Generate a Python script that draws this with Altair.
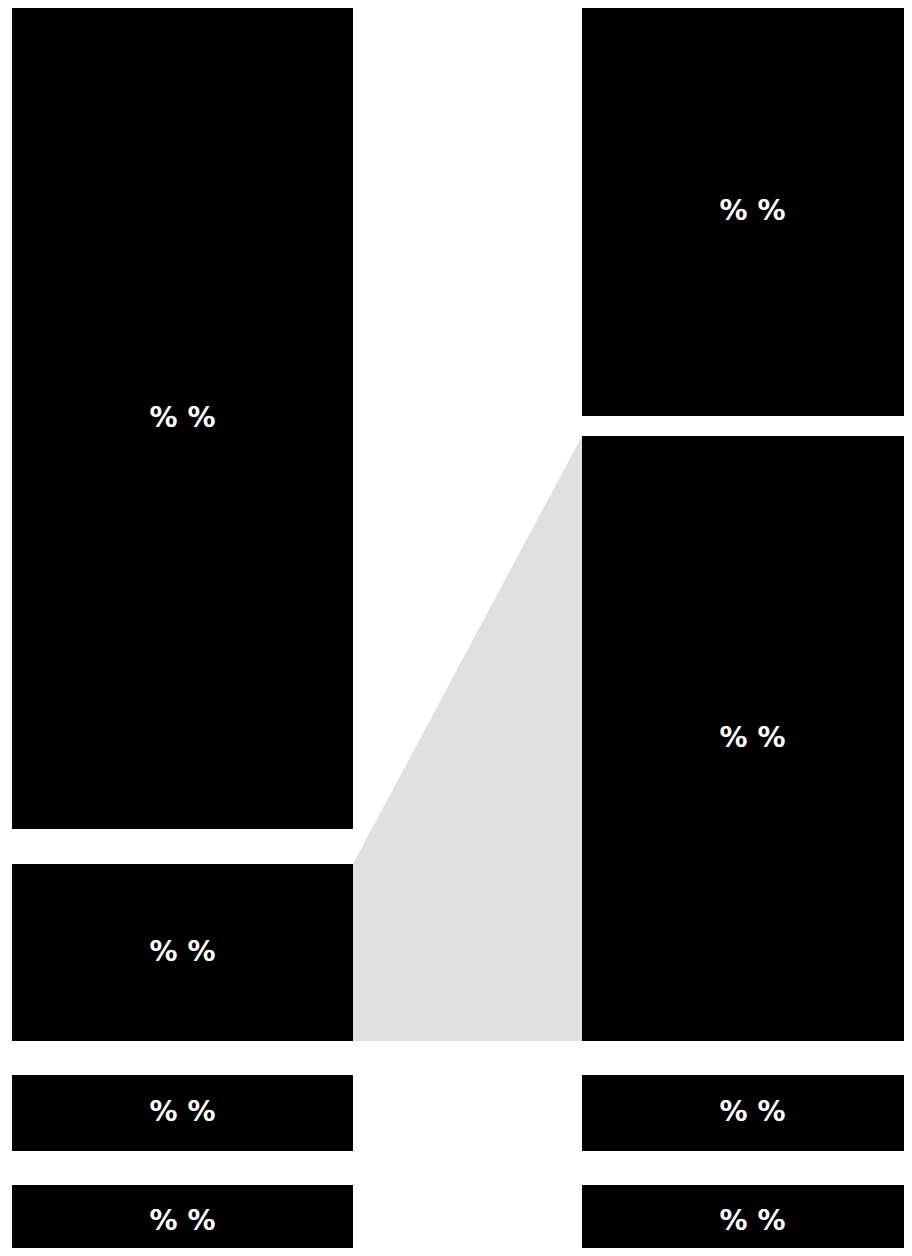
import altair as alt
import pandas as pd

# Data
column_names = ["Left", "Right"]
left_values = [821, 177, 76, 73]
right_values = [408, 605, 76, 73]
left_gaps = [35, 34, 34]
right_gaps = [20, 34, 34]
segment_labels = ["% %", "% %", "% %", "% %"]
link_pair = (1, 1)  # left segment index -> right segment index

# Layout constants
BAR_W = 341
COL_GAP = 229
W = 892
H = 1240


def build(values, gaps, col_idx, name):
    rows = []
    pos = 0
    for i, v in enumerate(values):
        rows.append({
            "col": name,
            "seg": i,
            "x0": col_idx * (BAR_W + COL_GAP),
            "x1": col_idx * (BAR_W + COL_GAP) + BAR_W,
            "y0": pos,
            "y1": pos + v,
            "ym": pos + v / 2,
            "xm": col_idx * (BAR_W + COL_GAP) + BAR_W / 2,
            "label": segment_labels[i],
        })
        pos += v
        if i < len(gaps):
            pos += gaps[i]
    return rows


rows = build(left_values, left_gaps, 0, column_names[0]) + build(right_values, right_gaps, 1, column_names[1])
df = pd.DataFrame(rows)

lseg = df[(df.col == "Left") & (df.seg == link_pair[0])].iloc[0]
rseg = df[(df.col == "Right") & (df.seg == link_pair[1])].iloc[0]
link = pd.DataFrame([
    {"x": lseg.x1, "y": lseg.y0, "y2": lseg.y1},
    {"x": rseg.x0, "y": rseg.y0, "y2": rseg.y1},
])

xs = alt.Scale(domain=[0, W], nice=False, zero=False)
ys = alt.Scale(domain=[0, H], nice=False, zero=False, reverse=True)

area = alt.Chart(link).mark_area(color="#e0e0e0", orient="vertical", opacity=1).encode(
    x=alt.X("x:Q", scale=xs, axis=None),
    y=alt.Y("y:Q", scale=ys, axis=None),
    y2="y2:Q",
)

bars = alt.Chart(df).mark_rect(color="#000000").encode(
    x=alt.X("x0:Q", scale=xs, axis=None),
    x2="x1:Q",
    y=alt.Y("y0:Q", scale=ys, axis=None),
    y2="y1:Q",
)

text = alt.Chart(df).mark_text(
    color="white", fontSize=28, fontWeight="bold", font="DejaVu Sans",
    align="center", baseline="middle"
).encode(
    x=alt.X("xm:Q", scale=xs, axis=None),
    y=alt.Y("ym:Q", scale=ys, axis=None),
    text="label:N",
)

chart = alt.layer(area, bars, text).properties(
    width=W, height=H,
    padding={"left": 4, "top": 0, "right": 0, "bottom": 0},
    autosize=alt.AutoSizeParams(type="none"),
).configure_view(stroke=None)

chart.save("out.html", embed_options={"renderer": "svg", "actions": False})
